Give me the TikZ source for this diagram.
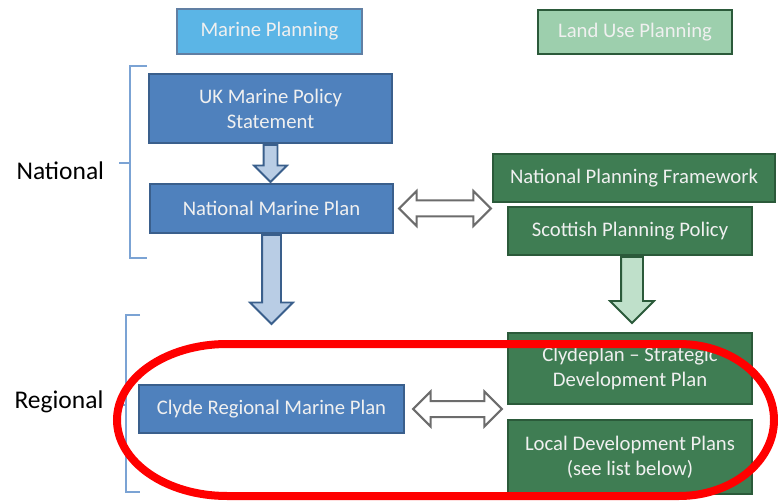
\documentclass[tikz,border=0pt]{standalone}
\usepackage{fontspec}
\setmainfont{Carlito}
\usetikzlibrary{positioning, calc}
\usetikzlibrary{shapes.arrows}

\definecolor{seablue}{HTML}{4F81BD}
\definecolor{seaedge}{HTML}{3A5F8C}
\definecolor{skyblue}{HTML}{5BB5E6}
\definecolor{landgreen}{HTML}{3F7D53}
\definecolor{landedge}{HTML}{2B5A3A}
\definecolor{palegreen}{HTML}{9DCFAD}
\definecolor{bracketblue}{HTML}{7BA3D4}

\begin{document}
\begin{tikzpicture}[x=1pt, y=-1pt,
    block/.style={draw, line width=2.2pt, text=white!94!black, font=\fontsize{20.7}{25}\selectfont, align=center, inner sep=0pt},
    marine/.style={block, fill=seablue, draw=seaedge},
    land/.style={block, fill=landgreen, draw=landedge},
    s arrow/.style={single arrow, draw, line width=1.8pt, inner xsep=0pt, anchor=tail, rotate=-90},
    d arrow/.style={double arrow, draw=gray!85!black, fill=white, line width=2pt, inner xsep=0pt, inner ysep=7, double arrow head extend=9.5},
    bracket/.style={draw=bracketblue, line width=1.2pt},
    level/.style={font=\fontsize{25.5}{28}\selectfont, anchor=base west}
]
    \useasboundingbox (0,0) rectangle (778,502);

    % column heads
    \draw (269.5,31.5) node[block, fill=skyblue, draw=seaedge!80, minimum width=185, minimum height=45] (mp) {Marine Planning};
    \draw (635,32) node[block, fill=palegreen, draw=landedge, minimum width=194, minimum height=44] (lup) {Land Use Planning};

    % marine side
    \draw (270.5,108.5) node[marine, minimum width=243, minimum height=69] (ukmps) {UK Marine Policy\\Statement};
    \draw (ukmps) ++(1,100) node[marine, minimum width=243, minimum height=49] (nmp) {National Marine Plan};
    \draw (271.5,409) node[marine, minimum width=265, minimum height=48] (crmp) {Clyde Regional Marine Plan};

    % land use side
    \draw (634,178) node[land, minimum width=282, minimum height=48] (npf) {National Planning Framework};
    \draw (630,231) node[land, minimum width=244, minimum height=48] (spp) {Scottish Planning Policy};
    \draw (630,368.5) node[land, minimum width=244, minimum height=71] (sdp) {Clydeplan -- Strategic\\Development Plan};
    \draw (sdp) ++(0,88.5) node[land, minimum width=244, minimum height=74] (ldp) {Local Development Plans\\(see list below)};

    % downward arrows
    \path (ukmps.south) node[s arrow, draw=seaedge, fill=seablue!40, minimum height=37, inner ysep=6, single arrow head extend=9.5] (a1) {};
    \path (nmp.south) node[s arrow, draw=seaedge, fill=seablue!40, minimum height=89, inner ysep=8.5, single arrow head extend=12] (a2) {};
    \path ($(spp.south)+(2,0)$) node[s arrow, draw=landedge, fill=palegreen!65, minimum height=66, inner ysep=10, single arrow head extend=11] (a3) {};

    % side-to-side arrows
    \path let \p1=($(nmp.east)+(5,0)$), \p2=($(npf.west|-nmp.east)+(-1,0)$), \n1={\x2-\x1} in ($(\p1)!.5!(\p2)$) node[d arrow, minimum height=\n1] (b1) {};
    \path let \p1=($(crmp.east)+(8,0)$), \p2=($(sdp.west|-crmp.east)+(-5,0)$), \n1={\x2-\x1} in ($(\p1)!.5!(\p2)$) node[d arrow, minimum height=\n1] (b2) {};

    % levels
    \draw[bracket] (147,66) -- (130,66) -- (130,258) -- (147,258);
    \draw[bracket] (130,163) -- (119,163);
    \draw[bracket] (140,315) -- (126,315) -- (126,492) -- (140,492);
    \draw[bracket] (126,405) -- (122,405);
    \node[level] (natl) at (13,180) {National};
    \node[level] (regl) at (11,408) {Regional};

    % red ring round the regional plans
    \draw[red, line width=8pt] (227,344) -- (679,344) arc[start angle=-90, end angle=90, x radius=95, y radius=76] -- (227,496) arc[start angle=90, end angle=270, x radius=110, y radius=76] -- cycle;

\end{tikzpicture}
\end{document}
